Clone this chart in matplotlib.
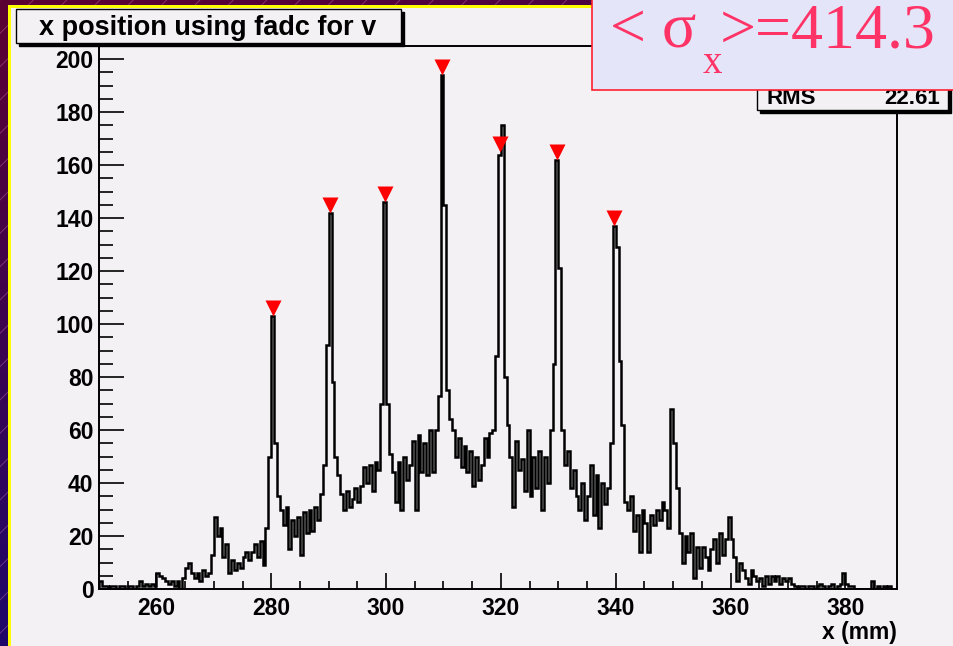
import numpy as np
import matplotlib
matplotlib.use("Agg")
import matplotlib.pyplot as plt
from matplotlib.patches import Rectangle
from matplotlib.ticker import MultipleLocator

W, H = 954, 646

# histogram: 0.5 mm bins starting at 250 mm, one row per 10 mm
bin_lo = 250.0
bin_width = 0.5
counts = [
    3, 1, 1, 0, 1, 1, 0, 1, 1, 0, 1, 1, 0, 1, 3, 1, 2, 1, 2, 1,                # 250
    6, 5, 4, 3, 2, 3, 1, 3, 0, 4, 8, 10, 6, 4, 6, 3, 7, 5, 6, 13,              # 260
    27, 20, 23, 12, 17, 6, 11, 7, 10, 8, 12, 14, 11, 14, 17, 12, 18, 9, 23, 50,  # 270
    103, 55, 35, 30, 24, 31, 15, 26, 20, 27, 13, 29, 21, 30, 22, 31, 26, 36, 47, 92,  # 280
    142, 78, 50, 43, 36, 30, 37, 31, 34, 38, 33, 39, 46, 40, 47, 37, 48, 45, 70, 146,  # 290
    70, 51, 44, 33, 48, 30, 50, 41, 47, 56, 30, 58, 44, 55, 43, 60, 44, 60, 73, 194,   # 300
    145, 75, 64, 60, 50, 57, 46, 54, 44, 52, 39, 50, 41, 47, 57, 50, 59, 60, 88, 164,  # 310
    175, 80, 62, 50, 31, 56, 45, 49, 37, 60, 35, 50, 38, 52, 30, 50, 40, 60, 85, 162,  # 320
    121, 60, 47, 52, 38, 45, 35, 30, 40, 26, 35, 47, 28, 43, 23, 40, 32, 38, 55, 137,  # 330
    129, 86, 62, 33, 30, 35, 22, 28, 14, 30, 25, 14, 28, 24, 30, 26, 33, 30, 23, 68,   # 340
    55, 38, 21, 10, 20, 14, 21, 4, 16, 8, 16, 12, 7, 15, 19, 10, 21, 13, 19, 27,       # 350
    19, 12, 3, 10, 7, 4, 2, 7, 5, 3, 4, 1, 5, 2, 5, 3, 5, 2, 4, 3,                     # 360
    4, 2, 1, 0, 1, 1, 0, 1, 1, 0, 1, 2, 1, 0, 1, 2, 0, 1, 2, 6,                        # 370
    2, 1, 1, 0, 0, 0, 0, 0, 0, 3, 0, 1, 0, 1, 0, 1, 0, 0,                              # 380
]

# peaks found (red markers)
peak_x = [280.25, 290.25, 299.75, 309.75, 319.85, 329.75, 339.75]
peak_y = [106, 145, 149, 197, 168, 165, 140]

title = "x position using fadc for v"
x_label = "x (mm)"
rms_label = "RMS"
rms_value = "22.61"
sigma_value = "414.3"

pad_col = "#f4f1f5"
plt.rcParams["font.family"] = ["Liberation Sans", "DejaVu Sans"]
plt.rcParams["font.weight"] = "bold"
plt.rcParams["hatch.linewidth"] = 0.6


def fx(p):
    return p / W


def fy(p):
    return 1 - p / H


fig = plt.figure(figsize=(W / 100, H / 100), dpi=100)

# striped gradient backdrop
bg = fig.add_axes([0, 0, 1, 1], zorder=-10)
bg.set_axis_off()
yy, xx = np.mgrid[0:1:64j, 0:1:64j]
top_l = np.array([0.36, 0.0, 0.2])
bot_l = np.array([0.12, 0.03, 0.42])
top_r = np.array([0.26, 0.02, 0.3])
img = (top_l * (1 - yy[..., None]) + bot_l * yy[..., None]
       + (top_r - top_l) * xx[..., None] * (1 - yy[..., None]))
bg.imshow(img, extent=[0, 1, 0, 1], aspect="auto", origin="upper")
bg.add_patch(Rectangle((0, 0), 1, 1, fill=False, hatch="/",
                       edgecolor=(1, 0.6, 0.85, 0.35), lw=0))
bg.add_patch(Rectangle((fx(8), 0), 1, fy(5), color="#ffff00", lw=0))
bg.add_patch(Rectangle((fx(11), 0), 1, fy(8), color=pad_col, lw=0))
bg.set_xlim(0, 1)
bg.set_ylim(0, 1)

ax = fig.add_axes([fx(99), fy(589), fx(897) - fx(99), fy(46) - fy(589)])
ax.set_facecolor(pad_col)
edges = bin_lo + bin_width * np.arange(len(counts) + 1)
ax.stairs(counts, edges, color="black", lw=1.8)
ax.plot(peak_x, peak_y, "v", color="red", ms=12, mec="none", zorder=4)

ax.set_xlim(250, 389)
ax.set_ylim(0, 205)
ax.xaxis.set_major_locator(MultipleLocator(20))
ax.xaxis.set_minor_locator(MultipleLocator(5))
ax.yaxis.set_major_locator(MultipleLocator(20))
ax.yaxis.set_minor_locator(MultipleLocator(5))
ax.tick_params(which="both", direction="in", width=1.2, colors="black")
ax.tick_params(axis="y", which="major", length=18, pad=4, labelsize=16.5)
ax.tick_params(axis="y", which="minor", length=10)
ax.tick_params(axis="x", which="major", length=11.5, pad=6, labelsize=16.5)
ax.tick_params(axis="x", which="minor", length=6)
for s in ax.spines.values():
    s.set_linewidth(1.4)

fig.text(fx(897), fy(632), x_label, ha="right", va="center", fontsize=16.5)

# title box with shadow
fig.add_artist(Rectangle((fx(19), fy(46)), fx(404) - fx(19), fy(12) - fy(46),
                         transform=fig.transFigure, color="black", zorder=5))
fig.add_artist(Rectangle((fx(16), fy(43)), fx(401) - fx(16), fy(9) - fy(43),
                         transform=fig.transFigure, fc=pad_col, ec="black",
                         lw=1, zorder=5))
fig.text(fx(208), fy(28), title, ha="center", va="center", fontsize=19.5, zorder=6)

# stats box (top hidden)
fig.add_artist(Rectangle((fx(760), fy(113)), fx(951) - fx(760), 0.3,
                         transform=fig.transFigure, color="black", zorder=5))
fig.add_artist(Rectangle((fx(757), fy(110)), fx(948) - fx(757), 0.3,
                         transform=fig.transFigure, fc=pad_col, ec="black",
                         lw=1, zorder=5))
fig.text(fx(767), fy(99), rms_label, ha="left", va="center", fontsize=16, zorder=6)
fig.text(fx(940), fy(99), rms_value, ha="right", va="center", fontsize=16, zorder=6)

# overlay sigma box
fig.add_artist(Rectangle((fx(592), fy(90)), 0.5, 0.5, transform=fig.transFigure,
                         fc="#e5e5fa", ec="#ff2030", lw=1.2, zorder=10))
serif = ["Liberation Serif", "DejaVu Serif"]
red = "#ff3366"
fig.text(fx(610), fy(47), "< \u03c3", family=serif, weight="normal", fontsize=46,
         color=red, va="baseline", zorder=11)
fig.text(fx(703), fy(73), "x", family=serif, weight="normal", fontsize=28,
         color=red, va="baseline", zorder=11)
fig.text(fx(720), fy(47), ">=" + sigma_value, family=serif, weight="normal",
         fontsize=46, color=red, va="baseline", zorder=11)

fig.savefig("out.png", dpi=100)
